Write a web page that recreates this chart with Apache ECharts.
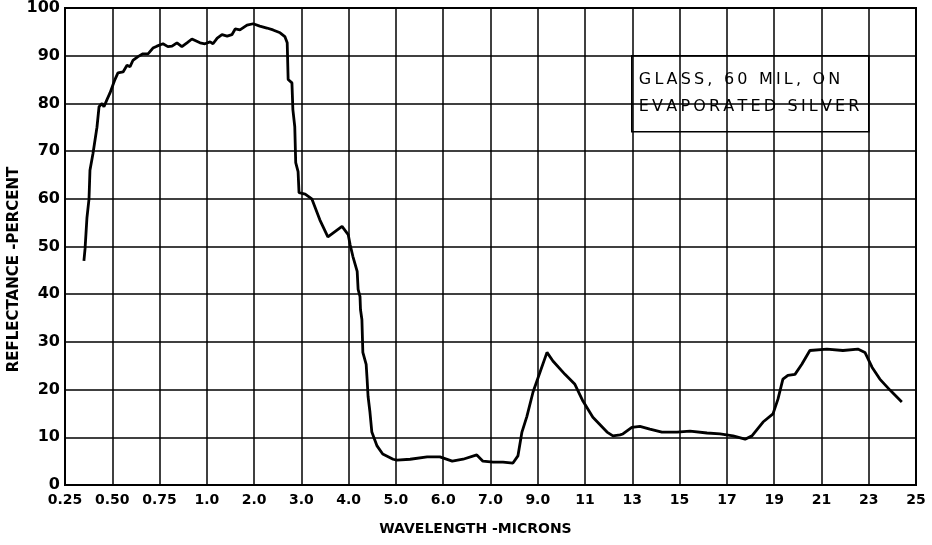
<!DOCTYPE html>
<html>
<head>
<meta charset="utf-8">
<script src="https://cdn.jsdelivr.net/npm/echarts@6/dist/echarts.min.js"></script>
<style>
    html, body { margin: 0; padding: 0; background: #fff; }
    #chart { width: 932px; height: 545px; }
</style>
</head>
<body>
<div id="chart"></div>
<script>
    // tick labels of the (non-linear) wavelength axis, evenly spaced on paper
    const tickWaves = [0.25, 0.5, 0.75, 1, 2, 3, 4, 5, 6, 7, 9, 11, 13, 15, 17, 19, 21, 23, 25];
    const tickLabels = ['0.25', '0.50', '0.75', '1.0', '2.0', '3.0', '4.0', '5.0', '6.0', '7.0',
        '9.0', '11', '13', '15', '17', '19', '21', '23', '25'];
    const yTicks = [0, 10, 20, 30, 40, 50, 60, 70, 80, 90, 100];

    // wavelength in microns
    const wavelength = [
        0.350, 0.356, 0.366, 0.377, 0.382, 0.398, 0.419, 0.430, 0.446, 0.456, 0.472, 0.488,
        0.514, 0.530, 0.557, 0.578, 0.594, 0.609, 0.636, 0.662, 0.689, 0.715, 0.736,
        0.768, 0.794, 0.816, 0.842, 0.868, 0.895, 0.921, 0.964, 0.990,
        1.07, 1.13, 1.22, 1.32, 1.43, 1.53, 1.60, 1.70, 1.85, 1.98,
        2.12, 2.27, 2.40, 2.55, 2.65, 2.70, 2.72, 2.80, 2.82, 2.86, 2.88, 2.93, 2.95,
        3.08, 3.12, 3.22, 3.39, 3.56, 3.71, 3.86, 3.99,
        4.03, 4.09, 4.18, 4.20, 4.24, 4.25, 4.28, 4.30, 4.37, 4.39, 4.41, 4.45, 4.49, 4.60, 4.72, 4.94,
        5.02, 5.30, 5.66, 5.93,
        6.19, 6.42, 6.71, 6.84,
        7.11, 7.53, 7.95, 8.16, 8.33, 8.54, 8.80,
        9.09, 9.39, 9.64, 10.15, 10.57, 10.91,
        11.33, 11.93, 12.18, 12.48, 12.60,
        12.98, 13.32, 13.74, 14.25, 14.89,
        15.44, 16.16, 16.71,
        17.26, 17.77, 18.06, 18.53, 18.95,
        19.16, 19.37, 19.58, 19.88, 20.17, 20.51,
        21.23, 21.91, 22.54, 22.84,
        23.14, 23.47, 23.90, 24.40
    ];
    // reflectance in percent
    const reflectance = [
        47, 49.5, 56, 60, 66, 69.5, 75, 79.3, 80, 79.3, 80.8, 82.2,
        85, 86.4, 86.6, 88, 87.7, 89, 89.8, 90.4, 90.4, 91.6, 92,
        92.5, 91.9, 92, 92.7, 91.9, 92.7, 93.5, 92.7, 92.5,
        92.9, 92.5, 93.7, 94.4, 94.1, 94.4, 95.6, 95.4, 96.4, 96.7,
        96.2, 95.8, 95.4, 94.8, 94, 92.7, 85, 84.3, 78.7, 75.1, 67.6, 65.7, 61.3,
        61, 61.1, 60, 55.6, 52, 53.1, 54.2, 52.5,
        50.4, 47.9, 44.8, 41, 39.5, 36.8, 34.7, 27.8, 25.3, 22.2, 18.6, 15.3, 11.1, 8.2, 6.5, 5.4,
        5.2, 5.4, 5.9, 5.9,
        5.0, 5.4, 6.3, 5.0,
        4.8, 4.8, 4.6, 6.1, 11.1, 14.4, 19.5,
        23.6, 27.8, 26, 23.2, 21.1, 17.6,
        14.2, 11.1, 10.3, 10.5, 10.7,
        12.1, 12.3, 11.7, 11.1, 11.1,
        11.3, 10.9, 10.7,
        10.3, 9.6, 10.3, 13.2, 14.9,
        18, 22.2, 23, 23.2, 25.3, 28.2,
        28.5, 28.2, 28.5, 27.8,
        24.7, 22.2, 19.9, 17.4
    ];

    // the paper's wavelength scale: piecewise linear between the ticks
    function waveToAxis(w) {
        for (let i = 0; i < tickWaves.length - 1; i++) {
            if (w <= tickWaves[i + 1]) {
                return i + (w - tickWaves[i]) / (tickWaves[i + 1] - tickWaves[i]);
            }
        }
        return tickWaves.length - 1;
    }

    // spread letters a little, like the stencil lettering of the original
    function spaced(s) {
        return s.split('').join('\u2009');
    }

    const seriesData = wavelength.map((w, i) => [waveToAxis(w), reflectance[i]]);

    const font = 'DejaVu Sans';
    const chart = echarts.init(document.getElementById('chart'));
    chart.setOption({
        animation: false,
        backgroundColor: '#fff',
        grid: {
            left: 65,
            right: 16,
            top: 8,
            bottom: 60,
            outerBoundsMode: 'none',
            show: true,
            borderColor: '#000',
            borderWidth: 2
        },
        xAxis: {
            type: 'value',
            min: 0,
            max: tickWaves.length - 1,
            interval: 1,
            name: 'WAVELENGTH -MICRONS',
            nameLocation: 'middle',
            nameGap: 37,
            nameMoveOverlap: false,
            nameTextStyle: {
                fontFamily: font, fontSize: 14, color: '#000', fontWeight: 'bold',
                padding: [0, 30, 0, 0]
            },
            axisLine: { show: false },
            axisTick: { show: false },
            axisLabel: {
                margin: 8,
                fontFamily: font,
                fontSize: 14,
                fontWeight: 'bold',
                color: '#000',
                formatter: (v) => tickLabels[Math.round(v)]
            },
            splitLine: { show: true, lineStyle: { color: '#000', width: 1.5 } }
        },
        yAxis: {
            type: 'value',
            min: yTicks[0],
            max: yTicks[yTicks.length - 1],
            interval: 10,
            name: 'REFLECTANCE -PERCENT',
            nameLocation: 'middle',
            nameGap: 43,
            nameMoveOverlap: false,
            nameTextStyle: {
                fontFamily: font, fontSize: 15, color: '#000', fontWeight: 'bold',
                padding: [0, 46, 0, 0]
            },
            axisLine: { show: false },
            axisTick: { show: false },
            axisLabel: {
                margin: 5,
                fontFamily: font,
                fontSize: 16,
                fontWeight: 'bold',
                color: '#000'
            },
            splitLine: { show: true, lineStyle: { color: '#000', width: 1.5 } }
        },
        series: [{
            type: 'line',
            data: seriesData,
            showSymbol: false,
            smooth: false,
            lineStyle: { color: '#000', width: 2.8 },
            z: 5
        }],
        graphic: [{
            type: 'group',
            left: 631,
            top: 55,
            z: 10,
            children: [{
                type: 'rect',
                shape: { x: 0, y: 0, width: 237, height: 76 },
                style: { fill: '#fff', stroke: '#000', lineWidth: 1.6 }
            }, {
                type: 'text',
                left: 7,
                top: 16,
                style: {
                    text: spaced('GLASS, 60 MIL, ON'),
                    font: '16px "DejaVu Sans"',
                    fill: '#000'
                }
            }, {
                type: 'text',
                left: 7,
                top: 43,
                style: {
                    text: spaced('EVAPORATED SILVER'),
                    font: '16px "DejaVu Sans"',
                    fill: '#000'
                }
            }]
        }]
    });
</script>
</body>
</html>
